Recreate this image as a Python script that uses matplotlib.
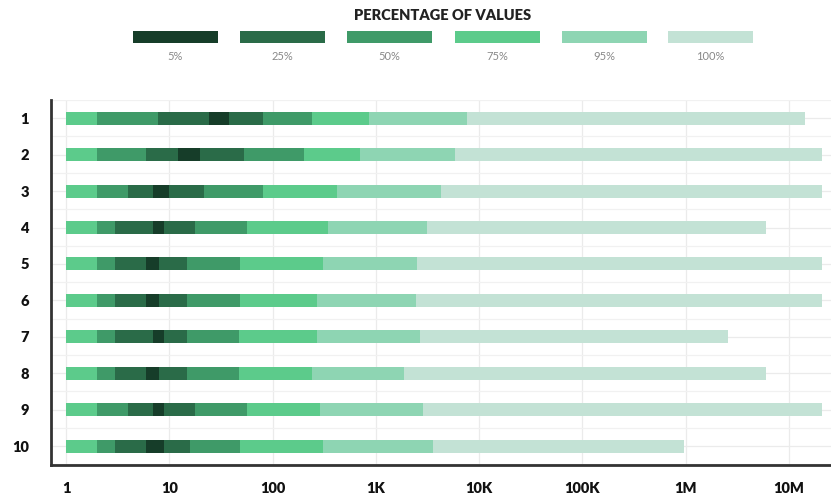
import numpy as np
import matplotlib
matplotlib.use('Agg')
import matplotlib.pyplot as plt
from matplotlib.patches import Rectangle
from matplotlib.ticker import FixedLocator, NullFormatter

plt.rcParams['font.family'] = ['Lato', 'DejaVu Sans']

# rows and percentile band edges
rows = ['1', '2', '3', '4', '5', '6', '7', '8', '9', '10']
low_100 = [1, 1, 1, 1, 1, 1, 1, 1, 1, 1]
low_95 = [1, 1, 1, 1, 1, 1, 1, 1, 1, 1]
low_75 = [1, 1, 1, 1, 1, 1, 1, 1, 1, 1]
low_50 = [2, 2, 2, 2, 2, 2, 2, 2, 2, 2]
low_25 = [7.8, 5.95, 4.0, 3.0, 3.0, 3.0, 3.0, 3.0, 4.0, 3.0]
low_5 = [24, 12.1, 6.9, 6.9, 6.0, 6.0, 6.9, 6.0, 6.9, 6.0]
high_5 = [38, 19.8, 10, 8.95, 7.95, 7.95, 8.95, 7.95, 8.95, 8.95]
high_25 = [80, 53, 21.8, 17.7, 14.9, 14.9, 14.9, 14.9, 17.7, 15.9]
high_50 = [242, 201, 80, 57, 48, 48, 47.6, 47.6, 57, 48]
high_75 = [857, 702, 423, 346, 305, 267, 271, 239, 288, 305]
high_95 = [7570, 5830, 4240, 3150, 2480, 2430, 2670, 1880, 2880, 3600]
high_100 = [14.3e6, 20.7e6, 20.7e6, 5.93e6, 20.7e6, 20.7e6, 2.58e6, 5.93e6, 20.7e6, 0.97e6]

band_labels = ['5%', '25%', '50%', '75%', '95%', '100%']
band_colors = ['#163d29', '#2a6b48', '#3f9a68', '#5ccb8b', '#8ed5b3', '#c3e2d5']

xticks = [1, 10, 100, 1e3, 1e4, 1e5, 1e6, 1e7]
xtick_labels = ['1', '10', '100', '1K', '10K', '100K', '1M', '10M']

bands = [
    (low_100, high_100, band_colors[5]),
    (low_95, high_95, band_colors[4]),
    (low_75, high_75, band_colors[3]),
    (low_50, high_50, band_colors[2]),
    (low_25, high_25, band_colors[1]),
    (low_5, high_5, band_colors[0]),
]

fig = plt.figure(figsize=(8.31, 4.99), dpi=100)
ax = fig.add_axes([0.0614, 0.0681, 0.9386, 0.7315])

y = np.arange(len(rows))
for lo, hi, col in bands:
    lo = np.array(lo, dtype=float)
    hi = np.array(hi, dtype=float)
    ax.barh(y, hi - lo, left=lo, height=0.36, color=col, zorder=3, linewidth=0)

ax.set_xscale('log')
ax.set_xlim(10 ** -0.145, 10 ** 7.406)
ax.set_ylim(9.52, -0.49)

ax.xaxis.set_major_locator(FixedLocator(xticks))
ax.xaxis.set_minor_locator(FixedLocator([]))
ax.xaxis.set_minor_formatter(NullFormatter())
ax.set_xticks(xticks)
ax.set_xticklabels(xtick_labels, fontsize=10.5, fontweight='heavy', color='#111111')
ax.set_yticks(y)
ax.set_yticklabels(rows, fontsize=10.5, fontweight='heavy', color='#111111')
ax.set_yticks(np.arange(len(rows) + 1) - 0.5, minor=True)
ax.tick_params(axis='x', length=0, pad=12)
ax.tick_params(axis='y', which='both', length=0, pad=16)

ax.grid(True, which='major', axis='both', color='#ebebeb', linewidth=0.9, zorder=0)
ax.grid(True, which='minor', axis='y', color='#f1f1f1', linewidth=0.9, zorder=0)

for s in ['top', 'right']:
    ax.spines[s].set_visible(False)
for s in ['left', 'bottom']:
    ax.spines[s].set_color('#333333')
    ax.spines[s].set_linewidth(2)

# legend drawn on top
fig.text(443 / 831, 1 - 16 / 499, 'PERCENTAGE OF VALUES', ha='center', va='center',
         fontsize=10.5, fontweight='heavy', color='#222222')
box_x = [133, 240, 347, 455, 562, 668]
for bx, col, lab in zip(box_x, band_colors, band_labels):
    fig.patches.append(Rectangle((bx / 831, 1 - 43 / 499), 85 / 831, 12 / 499,
                                 transform=fig.transFigure, color=col, linewidth=0))
    fig.text((bx + 42.5) / 831, 1 - 56 / 499, lab, ha='center', va='center',
             fontsize=8, color='#888888')

fig.savefig('out.png', dpi=100)
